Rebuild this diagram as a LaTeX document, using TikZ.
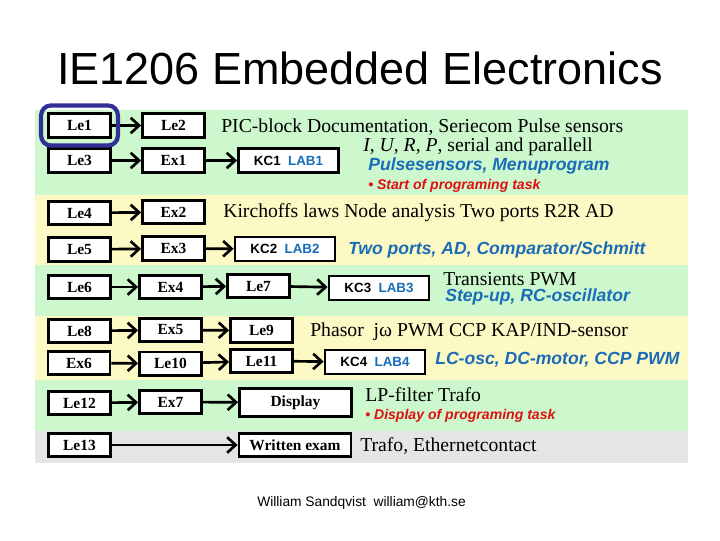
\documentclass[tikz,border=0pt]{standalone}
\usepackage{fontspec}
\setmainfont{Liberation Serif}
\newfontfamily\arial{Liberation Sans}
\usepackage{tikz}
\usetikzlibrary{arrows.meta}
\definecolor{bandgreen}{RGB}{205,247,205}
\definecolor{bandyellow}{RGB}{253,249,196}
\definecolor{bandgrey}{RGB}{229,229,229}
\definecolor{labblue}{RGB}{24,108,184}
\definecolor{taskred}{RGB}{222,16,16}
\definecolor{markblue}{RGB}{48,48,150}
\newcommand{\fs}[1]{\fontsize{#1}{#1}\selectfont}

\begin{document}
\begin{tikzpicture}[x=0.025cm,y=-0.025cm,
  lbox/.style={draw,line width=2pt,fill=white,minimum width=1.55cm,minimum height=0.58cm,inner sep=0pt,font=\fs{11}\bfseries},
  kbox/.style={lbox,minimum width=2.5cm,minimum height=0.6cm,font=\fs{9.5}\arial\bfseries},
  wbox/.style={lbox,minimum width=2.8cm},
  arr/.style={-{Straight Barb[length=6pt,width=11pt,line width=1.9pt]},line width=1.9pt},
  txt/.style={anchor=west,inner sep=0pt,font=\fs{14}},
  btxt/.style={anchor=west,inner sep=0pt,text=labblue,font=\fs{12.5}\arial\bfseries\itshape},
  rtxt/.style={anchor=west,inner sep=0pt,text=taskred,font=\fs{10}\arial\bfseries\itshape}]
\useasboundingbox (0,0) rectangle (720,540);
% bands
\fill[bandgreen] (35,110) rectangle (688,195);
\fill[bandyellow] (35,195) rectangle (688,265);
\fill[bandgreen] (35,265) rectangle (688,316);
\fill[bandyellow] (35,316) rectangle (688,380);
\fill[bandgreen] (35,380) rectangle (688,431);
\fill[bandgrey] (35,431) rectangle (688,463);
% title and footer
\node[font=\fs{32}\arial] (title) at (360,68) {IE1206 Embedded Electronics};
\node[font=\fs{9.8}\arial] (footer) at (361.5,503) {William Sandqvist\ \ william@kth.se};
% boxes
\node[lbox] (Le1) at (79.5,125.5) {Le1};
\node[lbox] (Le2) at (173.5,125.5) {Le2};
\node[lbox] (Le3) at (79.5,160.5) {Le3};
\node[lbox] (Ex1) at (173.5,160.5) {Ex1};
\node[kbox] (KC1) at (288.5,160.5) {KC1\ \ \textcolor{labblue}{LAB1}};
\node[lbox] (Le4) at (79.5,213) {Le4};
\node[lbox] (Ex2) at (173.5,212) {Ex2};
\node[lbox] (Le5) at (79.5,249.5) {Le5};
\node[lbox] (Ex3) at (173.5,248.5) {Ex3};
\node[kbox] (KC2) at (285,249) {KC2\ \ \textcolor{labblue}{LAB2}};
\node[lbox] (Le6) at (79.5,287) {Le6};
\node[lbox] (Ex4) at (170.5,287) {Ex4};
\node[lbox] (Le7) at (258.5,286) {Le7};
\node[kbox] (KC3) at (379,288) {KC3\ \ \textcolor{labblue}{LAB3}};
\node[lbox] (Le8) at (79.5,331) {Le8};
\node[lbox] (Ex5) at (170.5,330) {Ex5};
\node[lbox] (Le9) at (261.5,330.5) {Le9};
\node[lbox] (Ex6) at (79,363) {Ex6};
\node[lbox] (Le10) at (170.5,363.5) {Le10};
\node[lbox] (Le11) at (261.5,361) {Le11};
\node[kbox] (KC4) at (375,362) {KC4\ \ \textcolor{labblue}{LAB4}};
\node[lbox] (Le12) at (79.5,403) {Le12};
\node[lbox] (Ex7) at (170.5,402) {Ex7};
\node[wbox,minimum height=0.7cm] (Disp) at (295.5,402.5) {Display};
\node[lbox] (Le13) at (79.5,445) {Le13};
\node[wbox] (Exam) at (295,445) {Written exam};
% arrows
\draw[arr] (Le1) -- (Le2);
\draw[arr] (Le3) -- (Ex1);
\draw[arr] (Ex1) -- (KC1);
\draw[arr] (Le4) -- (Ex2);
\draw[arr] (Le5) -- (Ex3);
\draw[arr] (Ex3) -- (KC2);
\draw[arr] (Le6) -- (Ex4);
\draw[arr] (Ex4) -- (Le7);
\draw[arr] (Le7) -- (KC3);
\draw[arr] (Le8) -- (Ex5);
\draw[arr] (Ex5) -- (Le9);
\draw[arr] (Ex6) -- (Le10);
\draw[arr] (Le10) -- (Le11);
\draw[arr] (Le11) -- (KC4);
\draw[arr] (Le12) -- (Ex7);
\draw[arr] (Ex7) -- (Disp);
\draw[arr] (Le13) -- (Exam);
\node[draw=markblue,line width=3pt,rounded corners=7pt,minimum width=1.92cm,minimum height=1.0cm] (mark) at (Le1) {};
% texts
\node[txt] (t1) at (221,127) {PIC-block Documentation, Seriecom Pulse sensors};
\node[txt] (t2) at (363,147) {\textit{I}, \textit{U}, \textit{R}, \textit{P}, serial and parallell};
\node[btxt] (t3) at (368,166) {Pulsesensors, Menuprogram};
\node[rtxt] (t4) at (368,186) {• Start of programing task};
\node[txt] (t5) at (223,213) {Kirchoffs laws Node analysis Two ports R2R AD};
\node[btxt] (t6) at (348,250) {Two ports, AD, Comparator/Schmitt};
\node[txt] (t7) at (443,279) {Transients PWM};
\node[btxt] (t8) at (445,297) {Step-up, RC-oscillator};
\node[txt] (t9) at (310,332) {Phasor\ \ jω PWM CCP KAP/IND-sensor};
\node[btxt] (t10) at (435,360) {LC-osc, DC-motor, CCP PWM};
\node[txt] (t11) at (365,395) {LP-filter Trafo};
\node[rtxt] (t12) at (365,416) {• Display of programing task};
\node[txt] (t13) at (360,446) {Trafo, Ethernetcontact};
\end{tikzpicture}
\end{document}
